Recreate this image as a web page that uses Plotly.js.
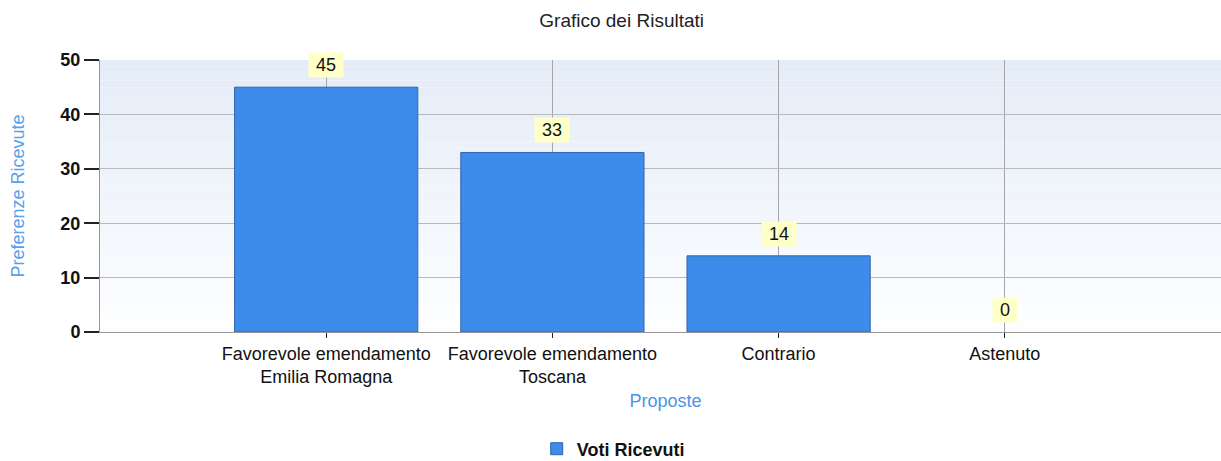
<!DOCTYPE html>
<html>
<head>
<meta charset="utf-8">
<script src="https://cdn.plot.ly/plotly-3.0.1.min.js"></script>
<style>
html,body{margin:0;padding:0;overflow:hidden;background:#fff;}
#chart{width:1231px;height:461px;}
</style>
</head>
<body>
<div id="chart"></div>
<script>
const categories = ["Favorevole emendamento<br>Emilia Romagna", "Favorevole emendamento<br>Toscana", "Contrario", "Astenuto"];
const votes = [45, 33, 14, 0];
const seriesName = "Voti Ricevuti";
const yTicks = [0, 10, 20, 30, 40, 50];

const FONT = "Liberation Sans, Arial, sans-serif";

// background gradient bands (plot area)
const shapes = [];
const N = 40;
const gradTop = [228, 236, 247], gradBot = [253, 254, 255];
for (let i = 0; i < N; i++) {
  const t = i / (N - 1);
  const c = gradTop.map((v, k) => Math.round(v + (gradBot[k] - v) * t));
  shapes.push({
    type: 'rect', xref: 'x domain', yref: 'y domain',
    x0: 0, x1: 1, y0: 1 - (i + 1) / N, y1: 1 - i / N,
    fillcolor: `rgb(${c[0]},${c[1]},${c[2]})`,
    line: {width: 0}, layer: 'below'
  });
}

const annotations = categories.map((c, i) => ({
  x: c, y: votes[i], xref: 'x', yref: 'y',
  text: '&nbsp;' + String(votes[i]) + '&nbsp;', showarrow: false,
  yanchor: 'bottom', yshift: 9,
  bgcolor: 'rgb(255,255,200)', borderpad: 2,
  font: {family: FONT, size: 18, color: '#111'}
}));

const trace = {
  type: 'bar', x: categories, y: votes, name: seriesName,
  width: 0.81,
  marker: {color: 'rgb(61,139,235)',
           line: {color: 'rgb(50,100,170)', width: votes.map(v => v > 0 ? 1 : 0)}},
  showlegend: true, hoverinfo: 'x+y'
};

const layout = {
  width: 1231, height: 461,
  margin: {l: 100, r: 0, t: 60, b: 129},
  paper_bgcolor: '#fff', plot_bgcolor: 'rgba(0,0,0,0)',
  title: {text: 'Grafico dei Risultati', x: 0.505, xanchor: 'center', xref: 'container',
          y: 0.956, yanchor: 'middle', yref: 'container',
          font: {family: FONT, size: 19, color: '#222'}},
  xaxis: {
    type: 'category', range: [-1, 4],
    showgrid: true, gridcolor: 'rgb(165,165,170)', gridwidth: 1,
    showline: true, linecolor: 'rgb(150,150,150)', linewidth: 1,
    ticks: 'outside', ticklen: 5, tickcolor: '#222',
    tickfont: {family: FONT, size: 18, color: '#111'},
    title: {text: 'Proposte', font: {family: FONT, size: 18, color: 'rgb(70,150,235)'}, standoff: 8},
    zeroline: false, fixedrange: true, automargin: false
  },
  yaxis: {
    range: [0, 50], tickvals: yTicks, ticktext: yTicks.map(String),
    showgrid: true, gridcolor: 'rgb(185,185,190)', gridwidth: 1,
    showline: true, linecolor: 'rgb(150,150,150)', linewidth: 1,
    ticks: 'outside', ticklen: 15, tickcolor: '#222', tickwidth: 2,
    tickfont: {family: FONT, size: 18, color: '#111', weight: 'bold'},
    title: {text: 'Preferenze Ricevute', font: {family: FONT, size: 18, color: 'rgb(90,160,235)'}, standoff: 31},
    zeroline: false, fixedrange: true, automargin: false
  },
  legend: {orientation: 'h', xref: 'container', yref: 'container',
           x: 0.436, xanchor: 'left', y: 0.026, yanchor: 'middle',
           font: {family: FONT, size: 18, color: '#111', weight: 'bold'}},
  shapes: shapes,
  annotations: annotations,
  bargap: 0.19
};

Plotly.newPlot('chart', [trace], layout, {displayModeBar: false, staticPlot: false});
</script>
</body>
</html>
